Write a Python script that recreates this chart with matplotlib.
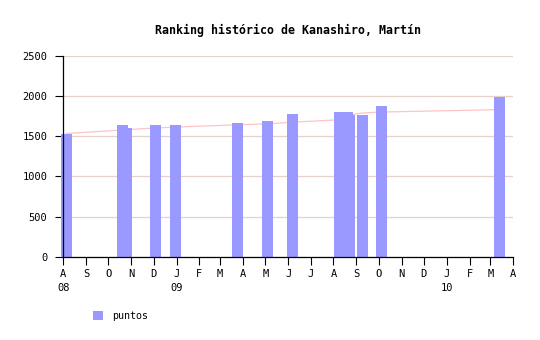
import matplotlib
matplotlib.use('Agg')
import matplotlib.pyplot as plt
import pandas as pd

# valores
fechas = ['2008-08-05', '2008-10-20', '2008-10-26', '2008-12-03', '2008-12-31',
          '2009-03-25', '2009-05-04', '2009-06-07', '2009-08-09', '2009-08-20',
          '2009-08-23', '2009-09-09', '2009-10-05', '2010-03-14']
puntos = [1528, 1640, 1603, 1640, 1640, 1665, 1690, 1778, 1803, 1803,
          1765, 1765, 1877, 1989]
tendencia = [1535, 1578, 1583, 1603, 1615, 1643, 1655, 1676, 1706, 1745,
             1765, 1790, 1802, 1832]
meses = ['A', 'S', 'O', 'N', 'D', 'J', 'F', 'M', 'A', 'M', 'J',
         'J', 'A', 'S', 'O', 'N', 'D', 'J', 'F', 'M', 'A']
anios = {0: '08', 5: '09', 17: '10'}
y_ticks = [0, 500, 1000, 1500, 2000, 2500]

MONO = 'DejaVu Sans Mono'
BAR = '#9999ff'
GRID = '#e6d2c8'
LINE = '#ffc4c4'

fechas = pd.to_datetime(fechas)
ticks = pd.date_range('2008-08-01', periods=len(meses), freq='MS')

fig = plt.figure(figsize=(5.4, 3.4), dpi=100)
ax = fig.add_axes([63.3 / 540, 1 - 256.7 / 340, 450 / 540, 200.7 / 340])

ax.set_axisbelow(True)
ax.yaxis.grid(True, color=GRID, linewidth=0.9)
ax.plot(fechas, tendencia, color=LINE, linewidth=0.9, zorder=2)
ax.bar(fechas, puntos, width=pd.Timedelta(days=14.9), color=BAR,
       linewidth=0, zorder=3, clip_on=False)

ax.set_xlim(ticks[0], ticks[-1])
ax.set_ylim(0, 2500)
ax.set_yticks(y_ticks)
ax.set_yticklabels([str(v) for v in y_ticks], fontsize=7.5, family=MONO)

etiquetas = [m + ('\n' + anios[i] if i in anios else '') for i, m in enumerate(meses)]
ax.set_xticks(ticks)
ax.set_xticklabels(etiquetas, fontsize=7.5, family=MONO)
for lbl in ax.get_xticklabels():
    lbl.set_linespacing(1.45)

ax.tick_params(axis='both', length=6, width=0.8, color='black')
ax.tick_params(axis='y', pad=5.5)
ax.tick_params(axis='x', pad=3)

for s in ['top', 'right']:
    ax.spines[s].set_visible(False)
for s in ['left', 'bottom']:
    ax.spines[s].set_linewidth(0.9)
    ax.spines[s].set_zorder(5)

fig.text(288.3 / 540, 1 - 30 / 340, 'Ranking histórico de Kanashiro, Martín',
         ha='center', va='center', fontsize=8.4, fontweight='bold', family=MONO)

handles, _ = ax.get_legend_handles_labels()
leg = fig.legend([ax.patches[0]], ['puntos'], loc='center left',
                 bbox_to_anchor=(93.3 / 540, 1 - 316 / 340), frameon=False,
                 borderpad=0, borderaxespad=0, handlelength=1.0, handleheight=1.0,
                 handletextpad=0.9, prop={'family': MONO, 'size': 7.2})

fig.savefig('out.png', dpi=100, facecolor='white')
